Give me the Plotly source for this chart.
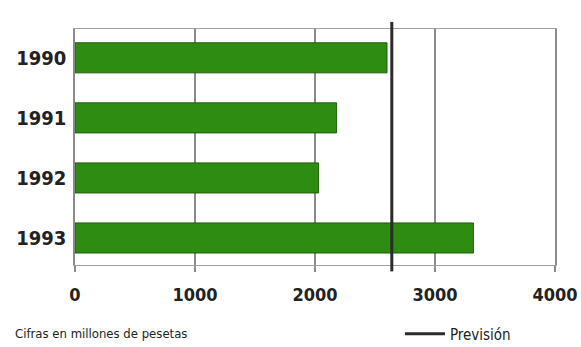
import plotly.graph_objects as go

# Annual figures (millions of pesetas) and the forecast reference value
years = ["1990", "1991", "1992", "1993"]
values = [2600, 2180, 2030, 3320]
forecast = 2640
x_ticks = [0, 1000, 2000, 3000, 4000]

bar_green = "#2f8c12"
bar_edge = "#1d5e0b"
grid_grey = "#8a8a8a"
text_dark = "#222222"
forecast_colour = "#2b2b2b"
cond_font = "DejaVu Sans Condensed, Liberation Sans Narrow, sans-serif"

fig = go.Figure()

fig.add_trace(go.Bar(
    x=values,
    y=years,
    orientation="h",
    width=0.5,
    marker=dict(color=bar_green, line=dict(color=bar_edge, width=1)),
    showlegend=False,
    hoverinfo="x+y",
))

# Legend entry for the forecast line
fig.add_trace(go.Scatter(
    x=[None],
    y=[None],
    mode="lines",
    line=dict(color=forecast_colour, width=3),
    name="Previsión",
    showlegend=True,
))

# Forecast marker: vertical line at the forecast value, slightly overhanging the frame
fig.add_shape(
    type="line",
    xref="x",
    yref="paper",
    x0=forecast,
    x1=forecast,
    y0=-0.027,
    y1=1.03,
    line=dict(color=forecast_colour, width=3),
    layer="above",
)

fig.update_layout(
    width=581,
    height=347,
    margin=dict(l=75, r=26, t=29, b=82, autoexpand=False),
    paper_bgcolor="white",
    plot_bgcolor="white",
    bargap=0.5,
    xaxis=dict(
        range=[0, 4000],
        tickvals=x_ticks,
        ticktext=[str(v) for v in x_ticks],
        showgrid=True,
        gridcolor=grid_grey,
        gridwidth=1.5,
        zeroline=False,
        showline=True,
        linecolor="#a0a0a0",
        linewidth=1,
        mirror=True,
        ticks="outside",
        ticklen=6,
        tickcolor=grid_grey,
        tickwidth=1.5,
        ticklabelstandoff=7,
        tickfont=dict(family=cond_font, size=18, color=text_dark, weight="bold"),
    ),
    yaxis=dict(
        type="category",
        categoryorder="array",
        categoryarray=years,
        range=[3.45, -0.48],
        showgrid=False,
        zeroline=False,
        showline=True,
        linecolor="#8a8a8a",
        linewidth=1.5,
        mirror=True,
        ticks="",
        ticklabelstandoff=3,
        tickfont=dict(family=cond_font, size=20, color=text_dark, weight="bold"),
    ),
    legend=dict(
        x=0.677,
        y=-0.292,
        xanchor="left",
        yanchor="middle",
        bgcolor="rgba(0,0,0,0)",
        font=dict(family=cond_font, size=15, color=text_dark),
        itemwidth=40,
    ),
    annotations=[
        dict(
            text="Cifras en millones de pesetas",
            xref="paper",
            yref="paper",
            x=-0.13,
            y=-0.292,
            xanchor="left",
            yanchor="middle",
            showarrow=False,
            font=dict(family=cond_font, size=13, color=text_dark),
        )
    ],
)

fig.write_html("out.html")
